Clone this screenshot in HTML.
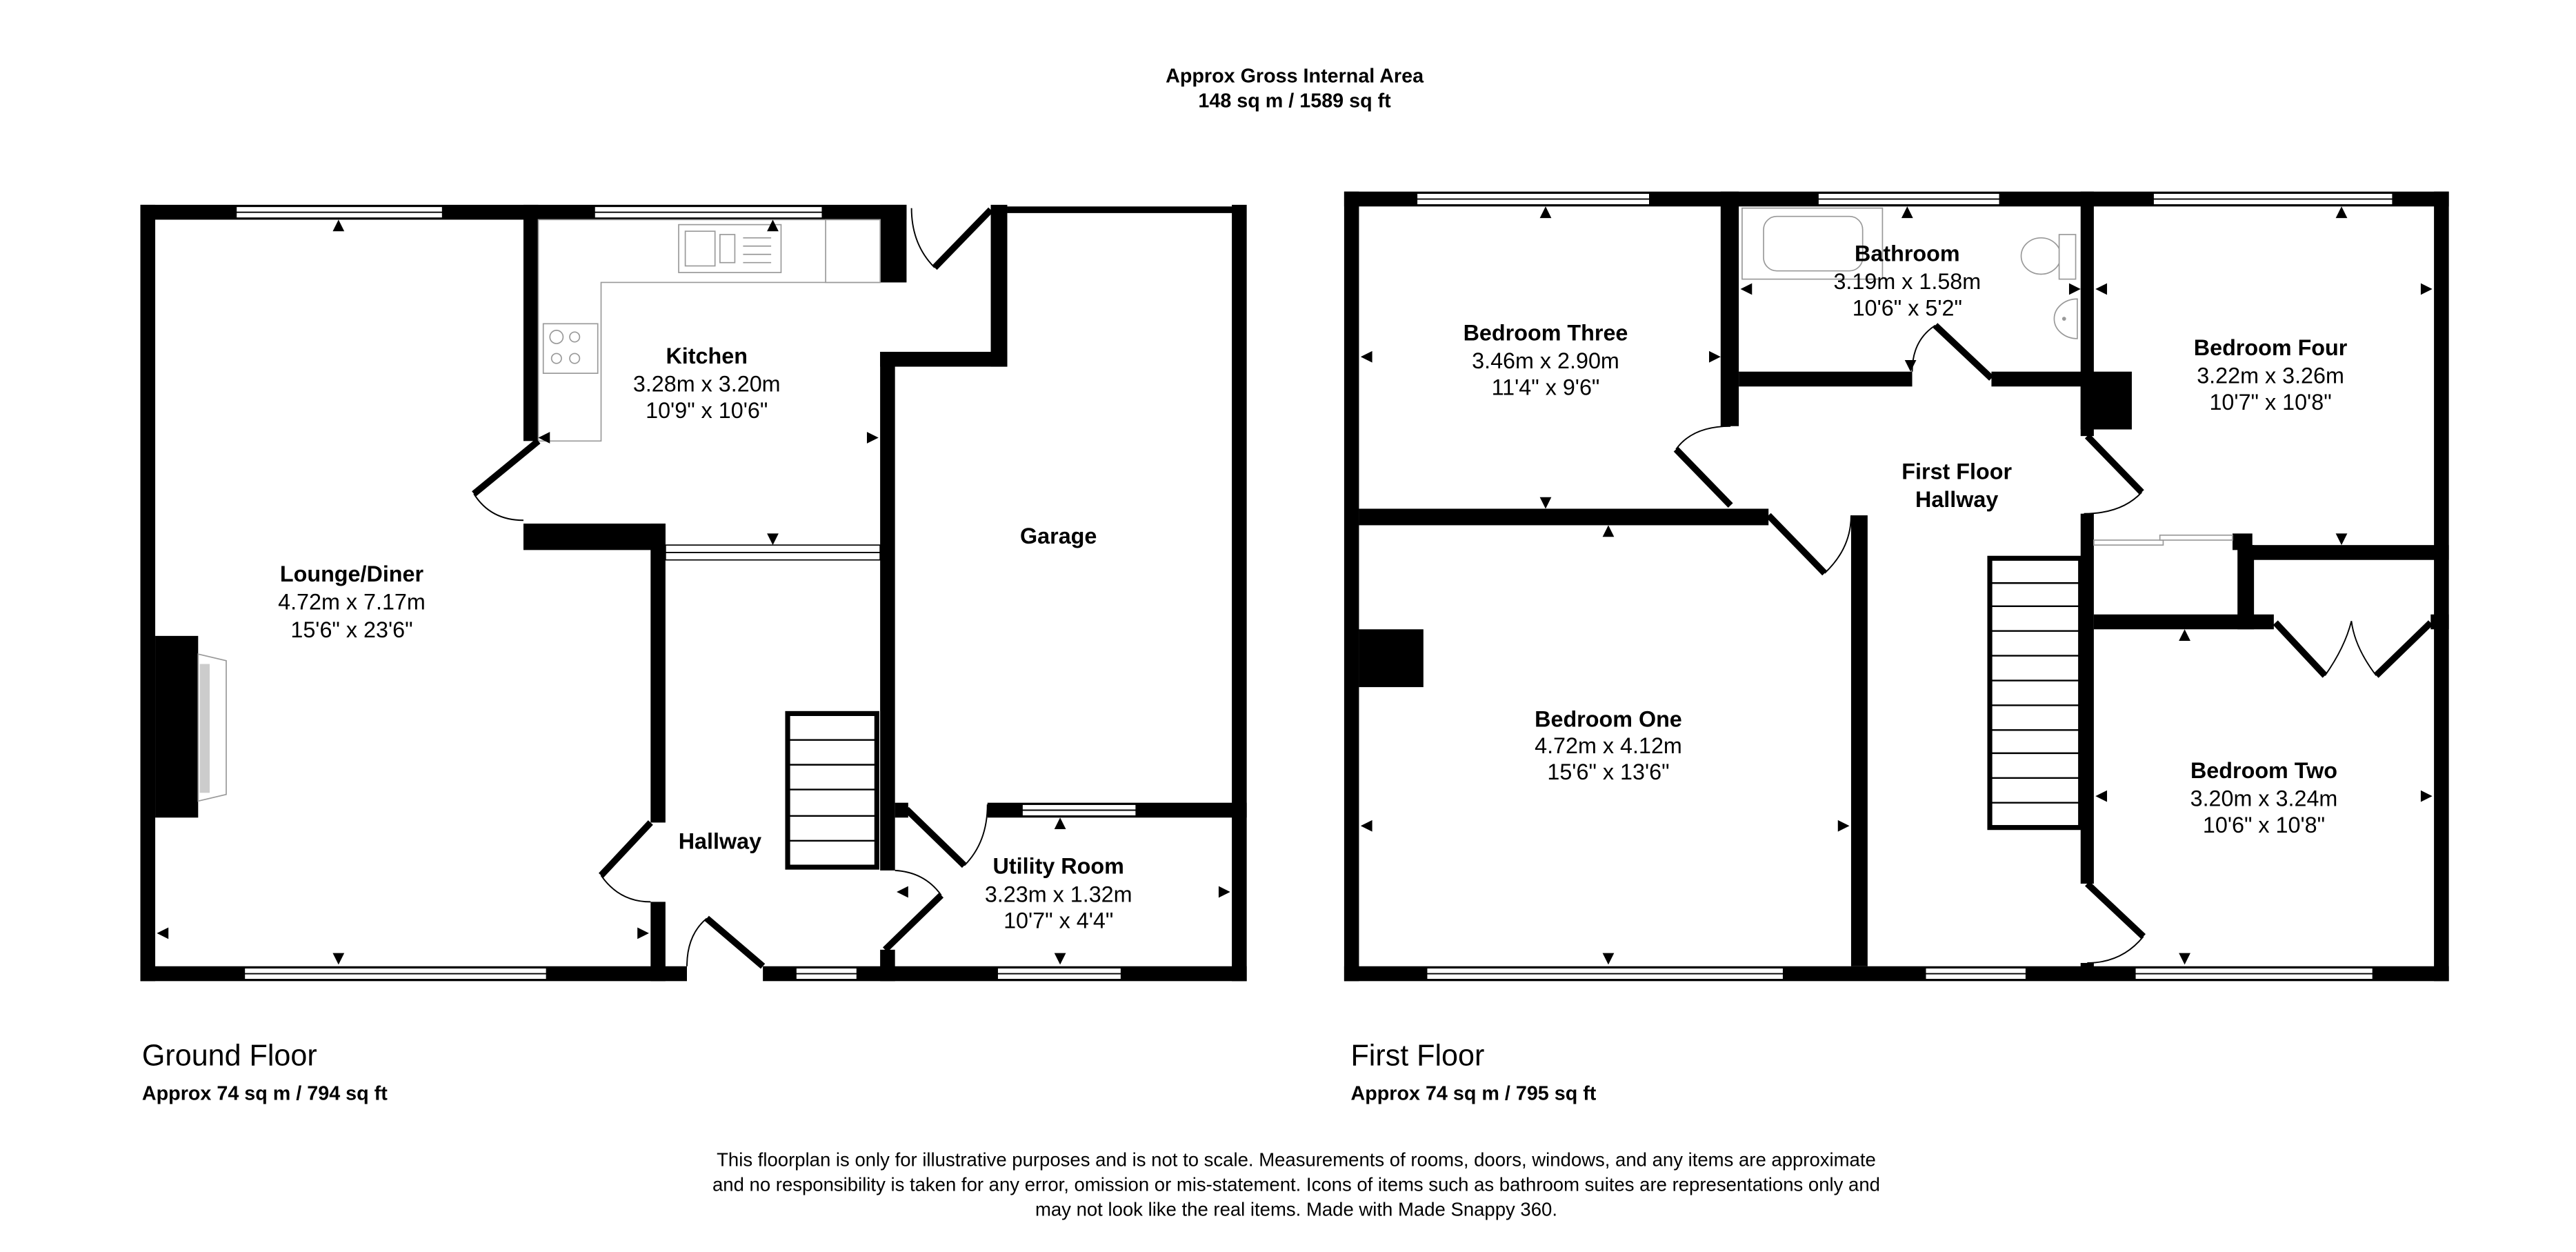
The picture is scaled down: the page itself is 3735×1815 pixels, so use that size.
<!DOCTYPE html>
<html><head><meta charset="utf-8"><style>
html,body{margin:0;padding:0;background:#fff;}
svg{display:block;}
text{font-family:"Liberation Sans",Arial,sans-serif;fill:#000;}
.b{font-weight:bold;font-size:13.5px;}
.r{font-size:13.5px;}
.w{fill:#fff;stroke:#000;stroke-width:0.7;}
.d{fill:none;stroke:#000;stroke-width:0.8;}
.leaf{stroke:#000;stroke-width:4;stroke-linecap:butt;}
.g{fill:#fff;stroke:#999;stroke-width:0.7;}
</style></head><body>
<svg width="3735" height="1815" viewBox="0 0 1560 758" preserveAspectRatio="none" xmlns="http://www.w3.org/2000/svg">
<rect width="1560" height="758" fill="#fff"/>
<text x="784" y="50" text-anchor="middle" style="font-weight:bold;font-size:12px">Approx Gross Internal Area</text>
<text x="784" y="65" text-anchor="middle" style="font-weight:bold;font-size:12px">148 sq m / 1589 sq ft</text>

<g fill="#000">
<rect x="85" y="124" width="464" height="9"/>
<rect x="85" y="124" width="9" height="470"/>
<rect x="85" y="585" width="331" height="9"/>
<rect x="462" y="585" width="293" height="9"/>
<rect x="746" y="124" width="9" height="470"/>
<rect x="533" y="124" width="16" height="47"/>
<rect x="600" y="124" width="10" height="98"/>
<rect x="533" y="213" width="77" height="9"/>
<rect x="533" y="213" width="9" height="314"/>
<rect x="533" y="575" width="9" height="19"/>
<rect x="598" y="486" width="157" height="9"/>
<rect x="542" y="486" width="8" height="9"/>
<rect x="317" y="124" width="9" height="143"/>
<rect x="317" y="317" width="86" height="16"/>
<rect x="394" y="317" width="9" height="181"/>
<rect x="394" y="546" width="9" height="48"/>
<rect x="94" y="385" width="26" height="110"/>
</g>
<rect x="610" y="125" width="140" height="4" fill="#000"/>
<rect class="w" x="143" y="125" width="125" height="7"/><line class="d" x1="143" y1="128.5" x2="268" y2="128.5"/>
<rect class="w" x="360" y="125" width="138" height="7"/><line class="d" x1="360" y1="128.5" x2="498" y2="128.5"/>
<rect class="w" x="148" y="586" width="183" height="7"/><line class="d" x1="148" y1="589.5" x2="331" y2="589.5"/>
<rect class="w" x="482" y="586" width="37" height="7"/><line class="d" x1="482" y1="589.5" x2="519" y2="589.5"/>
<rect class="w" x="604" y="586" width="75" height="7"/><line class="d" x1="604" y1="589.5" x2="679" y2="589.5"/>
<rect class="w" x="619" y="487" width="69" height="7"/><line class="d" x1="619" y1="490.5" x2="688" y2="490.5"/>
<rect class="w" x="403" y="330" width="130" height="9"/><line class="d" x1="403" y1="334.5" x2="533" y2="334.5"/>
<path class="g" d="M326 133 H533 V171 H364 V267 H326 Z"/>
<rect class="g" x="411" y="136" width="62" height="29"/>
<rect class="g" x="415" y="140" width="18" height="21"/><rect class="g" x="436" y="142" width="9" height="17"/>
<g class="g"><line x1="450" y1="144" x2="467" y2="144"/><line x1="450" y1="149" x2="467" y2="149"/><line x1="450" y1="154" x2="467" y2="154"/><line x1="450" y1="159" x2="467" y2="159"/></g>
<rect class="g" x="329" y="196" width="33" height="30"/>
<g class="g"><circle cx="337" cy="204" r="4"/><circle cx="348" cy="204" r="3"/><circle cx="337" cy="217" r="3"/><circle cx="348" cy="217" r="3"/></g>
<rect class="g" x="500" y="133" width="33" height="38"/>
<path class="g" d="M120 396 L137 400 V481 L120 485 Z" fill="#fff"/><rect x="121" y="402" width="6" height="78" fill="#ccc"/>
<rect x="477" y="432" width="54" height="93" fill="#fff" stroke="#000" stroke-width="3"/>
<g stroke="#000" stroke-width="1"><line x1="477" y1="448" x2="531" y2="448"/><line x1="477" y1="463" x2="531" y2="463"/><line x1="477" y1="478" x2="531" y2="478"/><line x1="477" y1="494" x2="531" y2="494"/><line x1="477" y1="509" x2="531" y2="509"/></g>
<line class="leaf" x1="326" y1="267" x2="287" y2="299"/><path class="d" d="M287 299 Q297 315 317 315"/>
<line class="leaf" x1="394" y1="498" x2="364" y2="530"/><path class="d" d="M364 530 Q375 546 394 546"/>
<line class="leaf" x1="462" y1="585" x2="428" y2="556"/><path class="d" d="M428 556 Q416 566 416 585"/>
<line class="leaf" x1="536" y1="575" x2="570" y2="542"/><path class="d" d="M570 542 Q560 528 542 527"/>
<line class="leaf" x1="549" y1="490" x2="584" y2="524"/><path class="d" d="M584 524 Q598 510 598 487"/>
<line class="leaf" x1="600" y1="127" x2="566" y2="162"/><path class="d" d="M566 162 Q552 148 552 126"/>
<g fill="#000">
<path d="M205 133 l-3.5 7 h7z"/><path d="M205 584 l-3.5 -7 h7z"/>
<path d="M95 565 l7 -3.5 v7z"/><path d="M393 565 l-7 -3.5 v7z"/>
<path d="M468 133 l-3.5 7 h7z"/><path d="M326 265 l7 -3.5 v7z"/><path d="M532 265 l-7 -3.5 v7z"/><path d="M468 330 l-3.5 -7 h7z"/>
<path d="M642 495 l-3.5 7 h7z"/><path d="M642 584 l-3.5 -7 h7z"/>
<path d="M543 540 l7 -3.5 v7z"/><path d="M745 540 l-7 -3.5 v7z"/>
</g>
<text class="b" x="428" y="220" text-anchor="middle">Kitchen</text>
<text class="r" x="428" y="237" text-anchor="middle">3.28m x 3.20m</text>
<text class="r" x="428" y="253" text-anchor="middle">10'9" x 10'6"</text>
<text class="b" x="213" y="352" text-anchor="middle">Lounge/Diner</text>
<text class="r" x="213" y="369" text-anchor="middle">4.72m x 7.17m</text>
<text class="r" x="213" y="386" text-anchor="middle">15'6" x 23'6"</text>
<text class="b" x="641" y="329" text-anchor="middle">Garage</text>
<text class="b" x="436" y="514" text-anchor="middle">Hallway</text>
<text class="b" x="641" y="529" text-anchor="middle">Utility Room</text>
<text class="r" x="641" y="546" text-anchor="middle">3.23m x 1.32m</text>
<text class="r" x="641" y="562" text-anchor="middle">10'7" x 4'4"</text>

<g fill="#000">
<rect x="814" y="116" width="669" height="9"/>
<rect x="814" y="116" width="9" height="478"/>
<rect x="1474" y="116" width="9" height="478"/>
<rect x="814" y="585" width="669" height="9"/>
<rect x="1042" y="116" width="11" height="142"/>
<rect x="823" y="308" width="248" height="10"/>
<rect x="1121" y="312" width="10" height="273"/>
<rect x="1053" y="225" width="105" height="9"/>
<rect x="1206" y="225" width="62" height="9"/>
<rect x="1260" y="116" width="8" height="148"/>
<rect x="1260" y="225" width="31" height="35"/>
<rect x="1260" y="311" width="8" height="224"/>
<rect x="1260" y="583" width="8" height="6"/>
<rect x="1352" y="323" width="12" height="10"/>
<rect x="1356" y="330" width="127" height="9"/>
<rect x="1355" y="330" width="10" height="51"/>
<rect x="1268" y="372" width="109" height="9"/>
<rect x="1472" y="372" width="11" height="9"/>
<rect x="823" y="381" width="39" height="35"/>
</g>
<rect class="w" x="858" y="117" width="141" height="7"/><line class="d" x1="858" y1="120.5" x2="999" y2="120.5"/>
<rect class="w" x="1101" y="117" width="110" height="7"/><line class="d" x1="1101" y1="120.5" x2="1211" y2="120.5"/>
<rect class="w" x="1304" y="117" width="145" height="7"/><line class="d" x1="1304" y1="120.5" x2="1449" y2="120.5"/>
<rect class="w" x="864" y="586" width="216" height="7"/><line class="d" x1="864" y1="589.5" x2="1080" y2="589.5"/>
<rect class="w" x="1166" y="586" width="61" height="7"/><line class="d" x1="1166" y1="589.5" x2="1227" y2="589.5"/>
<rect class="w" x="1293" y="586" width="144" height="7"/><line class="d" x1="1293" y1="589.5" x2="1437" y2="589.5"/>
<rect class="g" x="1268" y="327" width="42" height="3"/><rect class="g" x="1308" y="324" width="44" height="3"/>
<rect class="g" x="1055" y="126" width="85" height="43"/>
<rect class="g" x="1068" y="131" width="60" height="33" rx="8"/>
<ellipse class="g" cx="1236" cy="155" rx="12" ry="11"/><rect class="g" x="1247" y="142" width="10" height="27"/>
<path class="g" d="M1258 181 A14 12 0 0 0 1258 205 Z"/><circle cx="1250" cy="193" r="1.2" fill="#999"/>
<rect x="1205" y="338" width="55" height="163" fill="#fff" stroke="#000" stroke-width="3"/>
<g stroke="#000" stroke-width="1">
<line x1="1205" y1="353" x2="1260" y2="353"/><line x1="1205" y1="367" x2="1260" y2="367"/><line x1="1205" y1="382" x2="1260" y2="382"/><line x1="1205" y1="397" x2="1260" y2="397"/><line x1="1205" y1="412" x2="1260" y2="412"/><line x1="1205" y1="427" x2="1260" y2="427"/><line x1="1205" y1="442" x2="1260" y2="442"/><line x1="1205" y1="456" x2="1260" y2="456"/><line x1="1205" y1="471" x2="1260" y2="471"/><line x1="1205" y1="486" x2="1260" y2="486"/>
</g>
<line class="leaf" x1="1048" y1="306" x2="1015" y2="272"/><path class="d" d="M1015 272 Q1025 258 1048 258"/>
<line class="leaf" x1="1071" y1="312" x2="1105" y2="347"/><path class="d" d="M1105 347 Q1121 332 1121 312"/>
<line class="leaf" x1="1206" y1="229" x2="1172" y2="197"/><path class="d" d="M1172 197 Q1158 206 1158 225"/>
<line class="leaf" x1="1264" y1="264" x2="1297" y2="298"/><path class="d" d="M1297 298 Q1285 311 1262 311"/>
<line class="leaf" x1="1264" y1="535" x2="1298" y2="567"/><path class="d" d="M1298 567 Q1285 583 1264 583"/>
<line class="leaf" x1="1378" y1="377" x2="1408" y2="409"/><line class="leaf" x1="1472" y1="377" x2="1439" y2="409"/>
<path class="d" d="M1408 409 Q1420 392 1424 376"/><path class="d" d="M1439 409 Q1426 392 1424 376"/>
<g fill="#000">
<path d="M936 125 l-3.5 7 h7z"/><path d="M936 308 l-3.5 -7 h7z"/><path d="M824 216 l7 -3.5 v7z"/><path d="M1042 216 l-7 -3.5 v7z"/>
<path d="M1155 125 l-3.5 7 h7z"/><path d="M1157 225 l-3.5 -7 h7z"/><path d="M1054 175 l7 -3.5 v7z"/><path d="M1260 175 l-7 -3.5 v7z"/>
<path d="M1418 125 l-3.5 7 h7z"/><path d="M1418 330 l-3.5 -7 h7z"/><path d="M1269 175 l7 -3.5 v7z"/><path d="M1473 175 l-7 -3.5 v7z"/>
<path d="M974 318 l-3.5 7 h7z"/><path d="M974 584 l-3.5 -7 h7z"/><path d="M824 500 l7 -3.5 v7z"/><path d="M1120 500 l-7 -3.5 v7z"/>
<path d="M1323 381 l-3.5 7 h7z"/><path d="M1323 584 l-3.5 -7 h7z"/><path d="M1269 482 l7 -3.5 v7z"/><path d="M1473 482 l-7 -3.5 v7z"/>
</g>
<text class="b" x="936" y="206" text-anchor="middle">Bedroom Three</text>
<text class="r" x="936" y="223" text-anchor="middle">3.46m x 2.90m</text>
<text class="r" x="936" y="239" text-anchor="middle">11'4" x 9'6"</text>
<text class="b" x="1155" y="158" text-anchor="middle">Bathroom</text>
<text class="r" x="1155" y="175" text-anchor="middle">3.19m x 1.58m</text>
<text class="r" x="1155" y="191" text-anchor="middle">10'6" x 5'2"</text>
<text class="b" x="1375" y="215" text-anchor="middle">Bedroom Four</text>
<text class="r" x="1375" y="232" text-anchor="middle">3.22m x 3.26m</text>
<text class="r" x="1375" y="248" text-anchor="middle">10'7" x 10'8"</text>
<text class="b" x="1185" y="290" text-anchor="middle">First Floor</text>
<text class="b" x="1185" y="307" text-anchor="middle">Hallway</text>
<text class="b" x="974" y="440" text-anchor="middle">Bedroom One</text>
<text class="r" x="974" y="456" text-anchor="middle">4.72m x 4.12m</text>
<text class="r" x="974" y="472" text-anchor="middle">15'6" x 13'6"</text>
<text class="b" x="1371" y="471" text-anchor="middle">Bedroom Two</text>
<text class="r" x="1371" y="488" text-anchor="middle">3.20m x 3.24m</text>
<text class="r" x="1371" y="504" text-anchor="middle">10'6" x 10'8"</text>

<text x="86" y="645" style="font-size:18px">Ground Floor</text>
<text x="86" y="666" style="font-size:12px;font-weight:bold">Approx 74 sq m / 794 sq ft</text>
<text x="818" y="645" style="font-size:18px">First Floor</text>
<text x="818" y="666" style="font-size:12px;font-weight:bold">Approx 74 sq m / 795 sq ft</text>
<g style="font-size:11.5px" text-anchor="middle">
<text x="785" y="706">This floorplan is only for illustrative purposes and is not to scale. Measurements of rooms, doors, windows, and any items are approximate</text>
<text x="785" y="721">and no responsibility is taken for any error, omission or mis-statement. Icons of items such as bathroom suites are representations only and</text>
<text x="785" y="736">may not look like the real items. Made with Made Snappy 360.</text>
</g>
</svg>
</body></html>
